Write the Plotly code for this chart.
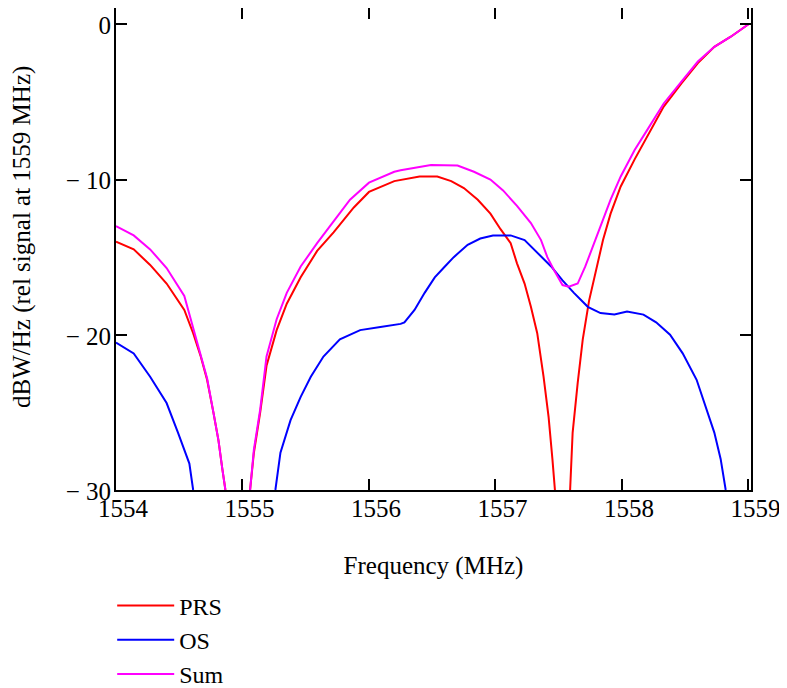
import plotly.graph_objects as go

# ---- data ----
prs_freq = [1554.0, 1554.14, 1554.27, 1554.40, 1554.54, 1554.61, 1554.67, 1554.72, 1554.77, 1554.81, 1554.84, 1554.865,
            None,
            1555.06, 1555.09, 1555.14, 1555.19, 1555.27, 1555.35, 1555.46, 1555.59, 1555.72, 1555.88, 1556.0, 1556.2,
            1556.4, 1556.54, 1556.65, 1556.75, 1556.86, 1556.96, 1557.04, 1557.12, 1557.17, 1557.23, 1557.28,
            1557.33, 1557.38, 1557.42, 1557.45, 1557.47,
            None,
            1557.59, 1557.61, 1557.65, 1557.69, 1557.74, 1557.78, 1557.85, 1557.91, 1557.99, 1558.10, 1558.20,
            1558.33, 1558.47, 1558.60, 1558.73, 1558.86, 1559.0]
prs_db = [-14.0, -14.5, -15.5, -16.7, -18.4, -19.9, -21.4, -22.9, -25.0, -26.8, -28.6, -30.0,
          None,
          -30.0, -27.6, -25.0, -22.0, -19.7, -18.0, -16.3, -14.6, -13.4, -11.8, -10.8, -10.1,
          -9.8, -9.8, -10.1, -10.55, -11.3, -12.2, -13.2, -14.1, -15.4, -16.7, -18.2,
          -19.9, -22.7, -25.3, -28.0, -30.0,
          None,
          -30.0, -26.3, -23.1, -20.3, -17.8, -16.3, -13.9, -12.2, -10.45, -8.7, -7.2,
          -5.3, -3.8, -2.5, -1.45, -0.8, 0.0]

os_freq = [1554.0, 1554.14, 1554.27, 1554.40, 1554.49, 1554.58, 1554.61,
           None,
           1555.26, 1555.30, 1555.38, 1555.46, 1555.54, 1555.64, 1555.77, 1555.93, 1556.09, 1556.25,
           1556.28, 1556.36, 1556.44, 1556.52, 1556.60, 1556.67, 1556.78, 1556.88, 1556.98, 1557.12,
           1557.23, 1557.33, 1557.44, 1557.53, 1557.62, 1557.73, 1557.83, 1557.94, 1558.04, 1558.17,
           1558.27, 1558.38, 1558.48, 1558.59, 1558.67, 1558.73, 1558.78, 1558.82]
os_db = [-20.5, -21.2, -22.7, -24.4, -26.3, -28.3, -30.0,
         None,
         -30.0, -27.6, -25.5, -24.0, -22.7, -21.4, -20.3, -19.7, -19.5, -19.3,
         -19.2, -18.4, -17.3, -16.3, -15.6, -15.0, -14.2, -13.8, -13.6, -13.6,
         -13.9, -14.7, -15.6, -16.5, -17.3, -18.2, -18.6, -18.7, -18.5, -18.7,
         -19.2, -20.0, -21.2, -22.9, -24.8, -26.3, -28.0, -30.0]

sum_freq = [1554.0, 1554.14, 1554.27, 1554.40, 1554.54, 1554.61, 1554.67, 1554.72, 1554.77, 1554.81, 1554.84, 1554.865,
            None,
            1555.06, 1555.09, 1555.14, 1555.19, 1555.27, 1555.35, 1555.46, 1555.59, 1555.72, 1555.85, 1556.0,
            1556.2, 1556.25, 1556.49, 1556.7, 1556.83, 1556.96, 1557.06, 1557.17, 1557.28, 1557.36, 1557.41,
            1557.46, 1557.53, 1557.58, 1557.65, 1557.71, 1557.78, 1557.85, 1557.91, 1557.99, 1558.10, 1558.20,
            1558.33, 1558.47, 1558.60, 1558.73, 1558.86, 1559.0]
sum_db = [-13.0, -13.6, -14.5, -15.7, -17.5, -19.5, -21.2, -22.8, -25.0, -26.8, -28.6, -30.0,
          None,
          -30.0, -27.4, -24.8, -21.4, -19.0, -17.3, -15.6, -14.1, -12.7, -11.3, -10.2,
          -9.5, -9.4, -9.06, -9.1, -9.5, -10.0, -10.7, -11.7, -12.8, -13.9, -15.0,
          -15.8, -16.8, -16.9, -16.7, -15.6, -14.1, -12.6, -11.3, -9.8, -8.1, -6.8,
          -5.1, -3.7, -2.4, -1.45, -0.8, 0.0]

x_tick_vals = [1554, 1555, 1556, 1557, 1558, 1559]
y_tick_vals = [-30, -20, -10, 0]
y_tick_text = ["\u2212 30", "\u2212 20", "\u2212 10", "0"]

FONT = "Liberation Serif"

fig = go.Figure()
fig.add_trace(go.Scatter(x=prs_freq, y=prs_db, mode="lines", name="PRS",
                         line=dict(color="#ff0000", width=2), connectgaps=False))
fig.add_trace(go.Scatter(x=os_freq, y=os_db, mode="lines", name="OS",
                         line=dict(color="#0000ff", width=2), connectgaps=False))
fig.add_trace(go.Scatter(x=sum_freq, y=sum_db, mode="lines", name="Sum",
                         line=dict(color="#ff00ff", width=2), connectgaps=False))

axis_common = dict(showgrid=False, zeroline=False, showline=True, linecolor="black", linewidth=2,
                   mirror="ticks", ticks="inside", ticklen=11, tickwidth=2, tickcolor="black",
                   tickfont=dict(family=FONT, size=25, color="black"))

fig.update_xaxes(range=[1554, 1559.02], tickvals=x_tick_vals, ticklabelstandoff=-5, ticklabelshift=7,
                 title=dict(text="Frequency (MHz)", font=dict(family=FONT, size=25, color="black"), standoff=35),
                 **axis_common)
fig.update_yaxes(range=[-30, 1.05], tickvals=y_tick_vals, ticktext=y_tick_text, ticklabelstandoff=-2,
                 ticklabelshift=1,
                 **axis_common)

fig.add_annotation(text="dBW/Hz (rel signal at 1559 MHz)", xref="paper", yref="paper",
                   x=0, y=0.525, xshift=-94, xanchor="center", yanchor="middle",
                   textangle=-90, showarrow=False,
                   font=dict(family=FONT, size=25, color="black"))

fig.update_layout(
    width=787, height=688,
    margin=dict(l=108, r=44, t=0, b=206, autoexpand=False),
    plot_bgcolor="white", paper_bgcolor="white",
    font=dict(family=FONT, size=23, color="black"),
    showlegend=True,
    legend=dict(x=-0.006, y=-0.194, xanchor="left", yanchor="top", orientation="v",
                font=dict(family=FONT, size=24, color="black"), bgcolor="rgba(0,0,0,0)",
                tracegroupgap=0, itemwidth=57),
)

fig.write_html("out.html")
